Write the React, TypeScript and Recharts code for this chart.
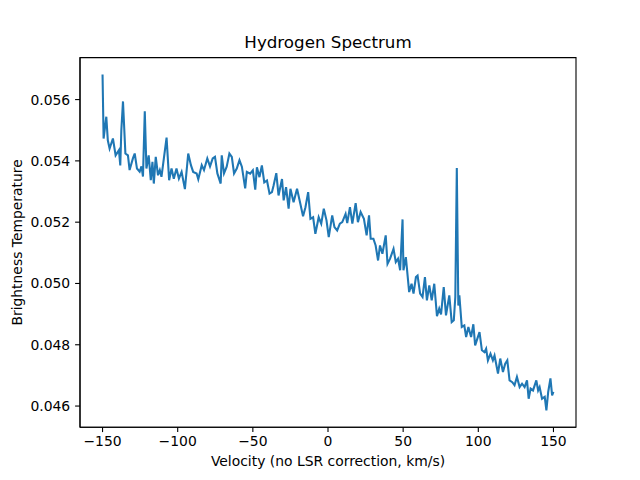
import React from "react";
import { LineChart, Line, XAxis, YAxis, ReferenceArea } from "recharts";

const velocity = [-150, -149.3, -147.5, -146.5, -145.3, -143.1, -141.3, -139.1, -138.2, -137.5,
  -136.4, -134.8, -133.1, -132, -129.8, -128.6, -127.1, -125.3, -124.1, -123.1,
  -121.9, -120.8, -119.3, -117.9, -116.8, -115.9, -114.6, -113.1, -111.9, -110.8,
  -109.2, -107.4, -105.7, -104.1, -102.6, -100.8, -99.2, -97.4, -95.2, -93,
  -91.2, -89.7, -87.4, -86.3, -84, -82.5, -80.3, -78.5, -76.7, -75.2,
  -73.6, -71.4, -70.7, -69.2, -67.4, -65.6, -64, -62.5, -60.7, -58.9,
  -57.3, -55.1, -54, -51.8, -50, -48.4, -47.3, -45.6, -44, -42.4,
  -40.6, -38.9, -37.3, -36.2, -34.4, -32.9, -30.6, -29.5, -27.9, -26.2,
  -25, -22.9, -20.6, -18.4, -16.6, -15, -13.2, -11.7, -9.9, -8.4,
  -6.2, -4.5, -2.8, -1, 0.5, 2.8, 4.3, 6.1, 7.9, 9.5,
  11.7, 12.8, 14.6, 16.2, 18.4, 19.9, 21.7, 23.9, 25.7, 27.3,
  28.4, 30.2, 31.7, 33.3, 34.6, 36.2, 38.4, 39.6, 41.3, 43.6,
  45.1, 46.6, 48, 49.6, 50.2, 51.8, 54, 55.6, 56.9, 58.5,
  59.6, 61.3, 62.9, 64.5, 65.8, 67.4, 69, 70.7, 72.5, 74,
  75.2, 77, 78.5, 80.7, 82.3, 83.7, 84.7, 85.7, 86.7, 87.4,
  89, 90.7, 91.9, 93.4, 95.2, 96.7, 97.9, 99.7, 100.8, 102.4,
  104.1, 105.2, 106.4, 108.1, 109.7, 110.8, 113.1, 114.6, 116.4, 117.9,
  119.3, 120.8, 122.6, 124.1, 125.7, 127.5, 129.1, 130.8, 132.4, 133.5,
  134.8, 136.4, 138.6, 139.8, 140.8, 142.4, 144.2, 145.3, 146.5, 148,
  149.1, 150];

const temperature = [0.05682, 0.05473, 0.05544, 0.05467, 0.05440, 0.05473, 0.05418, 0.05435, 0.05385, 0.05500,
  0.05594, 0.05424, 0.05418, 0.05370, 0.05408, 0.05424, 0.05375, 0.05365, 0.05382, 0.05349,
  0.05562, 0.05375, 0.05418, 0.05337, 0.05397, 0.05326, 0.05413, 0.05353, 0.05370, 0.05348,
  0.05408, 0.05476, 0.05337, 0.05375, 0.05342, 0.05375, 0.05342, 0.05364, 0.05308, 0.05424,
  0.05386, 0.05364, 0.05359, 0.05340, 0.05386, 0.05370, 0.05408, 0.05382, 0.05408, 0.05413,
  0.05359, 0.05326, 0.05418, 0.05359, 0.05381, 0.05424, 0.05413, 0.05359, 0.05375, 0.05402,
  0.05381, 0.05310, 0.05364, 0.05358, 0.05369, 0.05306, 0.05379, 0.05347, 0.05385, 0.05330,
  0.05336, 0.05293, 0.05298, 0.05320, 0.05360, 0.05287, 0.05341, 0.05271, 0.05314, 0.05244,
  0.05309, 0.05265, 0.05309, 0.05260, 0.05219, 0.05249, 0.05298, 0.05211, 0.05216, 0.05162,
  0.05216, 0.05195, 0.05244, 0.05206, 0.05151, 0.05222, 0.05184, 0.05173, 0.05195, 0.05200,
  0.05227, 0.05197, 0.05249, 0.05195, 0.05262, 0.05200, 0.05233, 0.05211, 0.05157, 0.05222,
  0.05146, 0.05146, 0.05124, 0.05075, 0.05124, 0.05097, 0.05157, 0.05064, 0.05081, 0.05113,
  0.05070, 0.05081, 0.05043, 0.05209, 0.05043, 0.05086, 0.04972, 0.04999, 0.04967, 0.05021,
  0.05026, 0.04967, 0.04956, 0.05021, 0.04945, 0.04994, 0.04945, 0.04999, 0.04893, 0.04918,
  0.04899, 0.04988, 0.04896, 0.04961, 0.04874, 0.04880, 0.04956, 0.05377, 0.04928, 0.04961,
  0.04858, 0.04863, 0.04825, 0.04858, 0.04825, 0.04867, 0.04798, 0.04825, 0.04841, 0.04782,
  0.04776, 0.04787, 0.04749, 0.04771, 0.04749, 0.04765, 0.04706, 0.04755, 0.04711, 0.04738,
  0.04749, 0.04684, 0.04678, 0.04668, 0.04695, 0.04662, 0.04673, 0.04662, 0.04684, 0.04624,
  0.04657, 0.04651, 0.04684, 0.04651, 0.04662, 0.04624, 0.04630, 0.04586, 0.04646, 0.04690,
  0.04635, 0.04646];

const xTicks = [-150, -100, -50, 0, 50, 100, 150];
const yTicks = [0.046, 0.048, 0.05, 0.052, 0.054, 0.056];
const xDomain = [-165, 165];
const yDomain = [0.04531, 0.05737];

const title = "Hydrogen Spectrum";
const xLabel = "Velocity (no LSR correction, km/s)";
const yLabel = "Brightness Temperature";

const data = velocity.map((v, i) => ({ v, t: temperature[i] }));

const FONT = "'DejaVu Sans', sans-serif";
const tickStyle = { fill: "#000", fontSize: 13.9, fontFamily: FONT };
const spine = { stroke: "#000", strokeWidth: 1.1 };

export default function App() {
  return (
    <div style={{ position: "absolute", left: 0, top: 0, width: 640, height: 480, background: "#fff" }}>
      <LineChart
        width={640}
        height={480}
        data={data}
        margin={{ top: 57.6, right: 64, bottom: 0, left: 0 }}
      >
        <XAxis
          dataKey="v"
          type="number"
          domain={xDomain}
          ticks={xTicks}
          allowDataOverflow
          height={52.8}
          tick={tickStyle}
          tickSize={4.9}
          tickMargin={4}
          tickLine={spine}
          axisLine={spine}
          tickFormatter={(x: number) => String(x).replace("-", "\u2212")}
        />
        <YAxis
          type="number"
          domain={yDomain}
          ticks={yTicks}
          allowDataOverflow
          width={80}
          tick={tickStyle}
          tickSize={4.9}
          tickMargin={4.9}
          tickLine={spine}
          axisLine={spine}
          tickFormatter={(y: number) => y.toFixed(3)}
        />
        <ReferenceArea
          x1={xDomain[0]}
          x2={xDomain[1]}
          y1={yDomain[0]}
          y2={yDomain[1]}
          fill="none"
          fillOpacity={0}
          stroke="#000"
          strokeWidth={1.1}
          strokeOpacity={1}
          ifOverflow="visible"
        />
        <Line
          dataKey="t"
          type="linear"
          stroke="#1f77b4"
          strokeWidth={2.08}
          dot={false}
          isAnimationActive={false}
        />
        <text x={328} y={48} textAnchor="middle" fontSize={16.7} fontFamily={FONT} fill="#000">
          {title}
        </text>
        <text x={328} y={466} textAnchor="middle" fontSize={13.9} fontFamily={FONT} fill="#000">
          {xLabel}
        </text>
        <text
          x={22}
          y={242.4}
          textAnchor="middle"
          fontSize={13.9}
          fontFamily={FONT}
          fill="#000"
          transform="rotate(-90, 22, 242.4)"
        >
          {yLabel}
        </text>
      </LineChart>
    </div>
  );
}
